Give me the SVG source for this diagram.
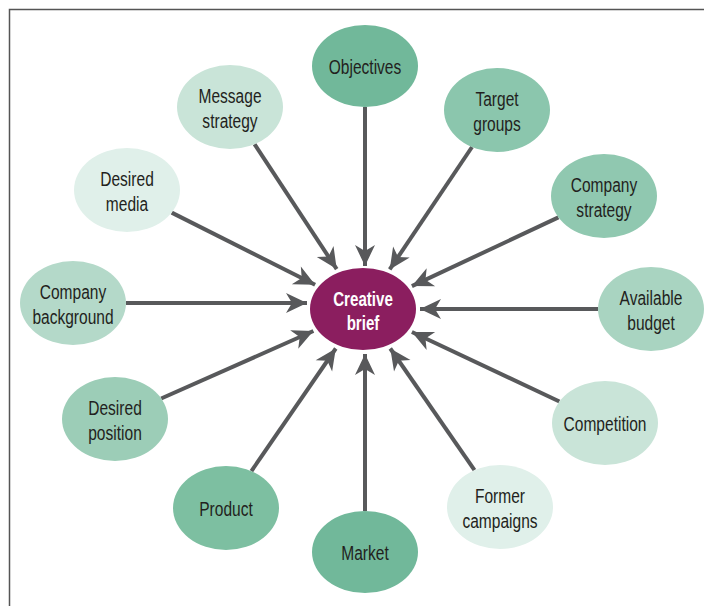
<svg xmlns="http://www.w3.org/2000/svg" width="704" height="606" viewBox="0 0 704 606">
<style>
.bg{fill:#ffffff}
.frame{fill:none;stroke:#555555;stroke-width:1.5}
.n text{font-family:"Liberation Sans",Arial,sans-serif;font-size:21px;fill:#231f20;text-anchor:middle}
.c text{font-family:"Liberation Sans",Arial,sans-serif;font-size:21px;font-weight:bold;fill:#ffffff;text-anchor:middle}
.conn line{stroke:#58595b;stroke-width:4;fill:none;marker-end:url(#ah)}
</style>
<defs>
<marker id="ah" markerUnits="userSpaceOnUse" viewBox="-22 -11 24 22" markerWidth="24" markerHeight="22" refX="0" refY="0" orient="auto">
<path d="M0,0 L-21,-10 L-15,0 L-21,10 Z" fill="#58595b"/>
</marker>
</defs>
<rect class="bg" x="0" y="0" width="704" height="606"/>
<path class="frame" d="M9.5,606 L9.5,9.5 L704,9.5"/>
<g id="connectors" class="conn">
<line x1="365" y1="107" x2="365" y2="266"/>
<line x1="472" y1="147" x2="389.7" y2="269.4"/>
<line x1="558.4" y1="217.4" x2="411.9" y2="286.1"/>
<line x1="598" y1="309" x2="420" y2="309"/>
<line x1="559.4" y1="401.5" x2="411.9" y2="332"/>
<line x1="474.5" y1="470.2" x2="390.3" y2="348.5"/>
<line x1="365" y1="511" x2="365" y2="354"/>
<line x1="251.4" y1="471.1" x2="335.8" y2="348.5"/>
<line x1="161.2" y1="398.5" x2="313.4" y2="331"/>
<line x1="126" y1="303" x2="307" y2="303"/>
<line x1="171.7" y1="212.6" x2="315.1" y2="284.8"/>
<line x1="254.5" y1="144.2" x2="336.7" y2="269.1"/>
</g>
<g id="objectives" class="n" transform="translate(365,66)"><ellipse rx="53" ry="41" fill="#71b89a"/><text y="8" transform="scale(0.74,1)">Objectives</text></g>
<g id="target-groups" class="n" transform="translate(497,110)"><ellipse rx="53" ry="42" fill="#8bc6ad"/><text y="-4" transform="scale(0.74,1)">Target</text><text y="21" transform="scale(0.74,1)">groups</text></g>
<g id="company-strategy" class="n" transform="translate(604,196)"><ellipse rx="53" ry="42" fill="#90c8b0"/><text y="-4" transform="scale(0.74,1)">Company</text><text y="21" transform="scale(0.74,1)">strategy</text></g>
<g id="available-budget" class="n" transform="translate(651,309)"><ellipse rx="53" ry="42" fill="#a9d4c1"/><text y="-4" transform="scale(0.74,1)">Available</text><text y="21" transform="scale(0.74,1)">budget</text></g>
<g id="competition" class="n" transform="translate(605,423)"><ellipse rx="53" ry="42" fill="#c9e4d8"/><text y="8" transform="scale(0.74,1)">Competition</text></g>
<g id="former-campaigns" class="n" transform="translate(500,507)"><ellipse rx="53" ry="42" fill="#e0f0ea"/><text y="-4" transform="scale(0.74,1)">Former</text><text y="21" transform="scale(0.74,1)">campaigns</text></g>
<g id="market" class="n" transform="translate(365,552)"><ellipse rx="53" ry="41" fill="#71b89a"/><text y="8" transform="scale(0.74,1)">Market</text></g>
<g id="product" class="n" transform="translate(226,508)"><ellipse rx="53" ry="42" fill="#7dbfa1"/><text y="8" transform="scale(0.74,1)">Product</text></g>
<g id="desired-position" class="n" transform="translate(115,419)"><ellipse rx="53" ry="42" fill="#9ccdb7"/><text y="-4" transform="scale(0.74,1)">Desired</text><text y="21" transform="scale(0.74,1)">position</text></g>
<g id="company-background" class="n" transform="translate(73,303)"><ellipse rx="53" ry="42" fill="#b4d9c9"/><text y="-4" transform="scale(0.74,1)">Company</text><text y="21" transform="scale(0.74,1)">background</text></g>
<g id="desired-media" class="n" transform="translate(127,190)"><ellipse rx="53" ry="42" fill="#e0f0ea"/><text y="-4" transform="scale(0.74,1)">Desired</text><text y="21" transform="scale(0.74,1)">media</text></g>
<g id="message-strategy" class="n" transform="translate(230,107)"><ellipse rx="53" ry="42" fill="#c9e4d8"/><text y="-4" transform="scale(0.74,1)">Message</text><text y="21" transform="scale(0.74,1)">strategy</text></g>
<g id="creative-brief" class="c" transform="translate(363,309)"><ellipse rx="53" ry="41" fill="#8b1e5f"/><text y="-3" transform="scale(0.72,1)">Creative</text><text y="21" transform="scale(0.72,1)">brief</text></g>
</svg>
